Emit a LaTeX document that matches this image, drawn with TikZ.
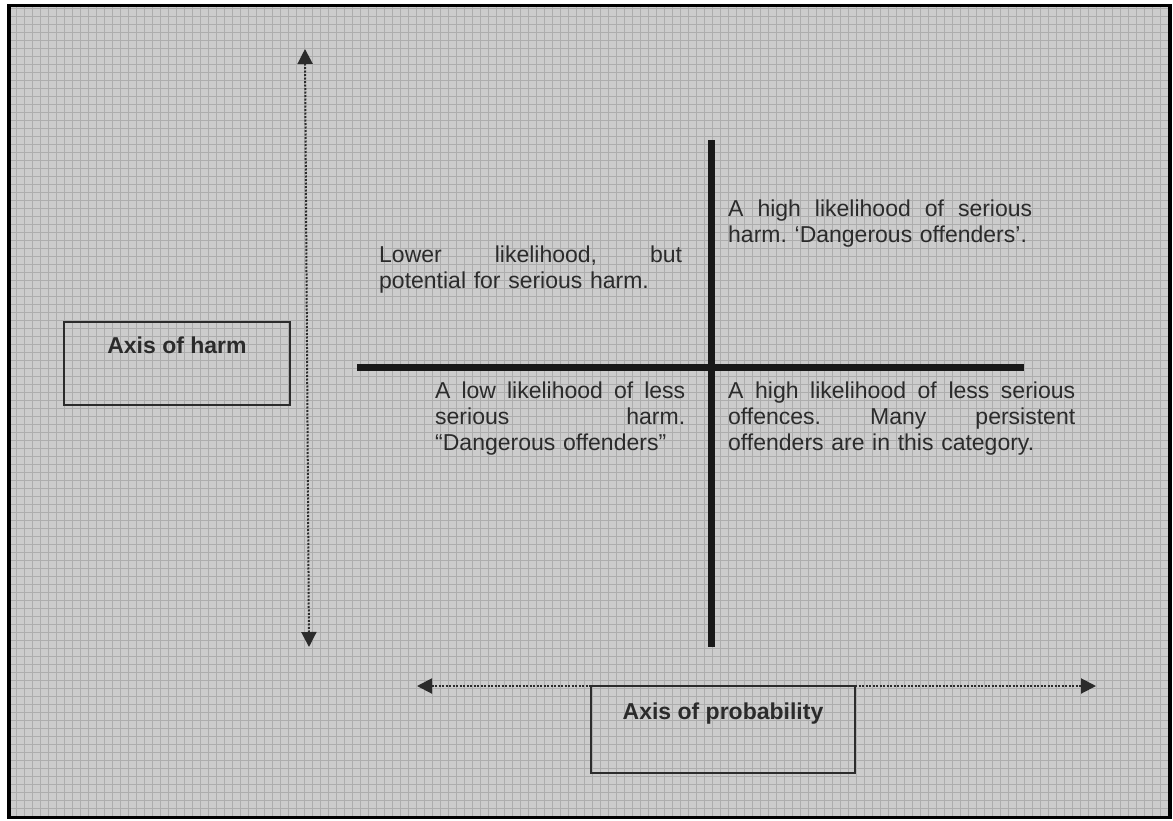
\documentclass[tikz,border=0pt]{standalone}
\usepackage{fontspec}
\setmainfont{Liberation Sans}
\usetikzlibrary{arrows.meta}
\definecolor{bgfill}{gray}{0.80}
\definecolor{gridc}{gray}{0.68}
\definecolor{inkc}{gray}{0.17}
\frenchspacing
\newcommand{\jline}[2]{\leavevmode\makebox[#1][l]{#2}}
\begin{document}
\begin{tikzpicture}[x=1pt,y=-1pt,
  txt/.style={font=\fontsize{23}{26}\selectfont, text=inkc, inner sep=0pt, anchor=base west, align=left},
  boldtxt/.style={font=\fontsize{23}{26}\selectfont\bfseries, text=inkc, inner sep=0pt, anchor=base},
  axisbox/.style={draw=inkc, line width=2pt, inner sep=0pt},
  axisline/.style={draw=black!90, line width=7pt},
  dotarrow/.style={draw=inkc, line width=2pt, dash pattern=on 2pt off 1.5pt,
    {Triangle[length=15pt,width=15pt]}-{Triangle[length=15pt,width=15pt]}},
]
\useasboundingbox (0,0) rectangle (1173,820);
% background
\begin{scope}
  \clip (9,5.5) rectangle (1170,817.5);
  \fill[bgfill] (0,0) rectangle (1173,820);
  \draw[gridc, line width=1pt] (0,0) grid[step=8pt] (1173,820);
\end{scope}
\draw[black, line width=3.5pt] (9,5.5) rectangle (1170,817.5);

% coordinates
\coordinate (harmtop) at (305,49);
\coordinate (harmbot) at (309,647);
\coordinate (probleft) at (417,686);
\coordinate (probright) at (1096,686);
\coordinate (hleft) at (357,367);
\coordinate (hright) at (1024,367);
\coordinate (vtop) at (711,140);
\coordinate (vbot) at (711,647);

% quadrant axes
\draw[axisline] (hleft) -- (hright);
\draw[axisline] (vtop) -- (vbot);

% dotted axes
\draw[dotarrow] (harmtop) -- (harmbot);
\draw[dotarrow] (probleft) -- (probright);

% axis boxes
\node[axisbox, minimum width=226pt, minimum height=83pt] (harmbox) at (177,363.5) {};
\node[boldtxt] (harmlabel) at (177,353) {Axis of harm};
\node[axisbox, minimum width=264pt, minimum height=87pt] (probbox) at (723,729.5) {};
\node[boldtxt] (problabel) at (723,719) {Axis of probability};

% quadrant texts
\node[txt, text width=303pt] (q1) at (379,262)
  {\jline{303pt}{Lower\hfill likelihood,\hfill but}\\potential for serious harm.};
\node[txt, text width=304pt] (q2) at (728,216)
  {\jline{304pt}{A\hfill high\hfill likelihood\hfill of\hfill serious}\\harm. ‘Dangerous offenders’.};
\node[txt, text width=250pt] (q3) at (435,398)
  {\jline{250pt}{A\hfill low\hfill likelihood\hfill of\hfill less}\\\jline{250pt}{serious\hfill harm.}\\“Dangerous offenders”};
\node[txt, text width=347pt] (q4) at (728,398)
  {\jline{347pt}{A\hfill high\hfill likelihood\hfill of\hfill less\hfill serious}\\\jline{347pt}{offences.\hfill Many\hfill persistent}\\offenders are in this category.};
\end{tikzpicture}
\end{document}
